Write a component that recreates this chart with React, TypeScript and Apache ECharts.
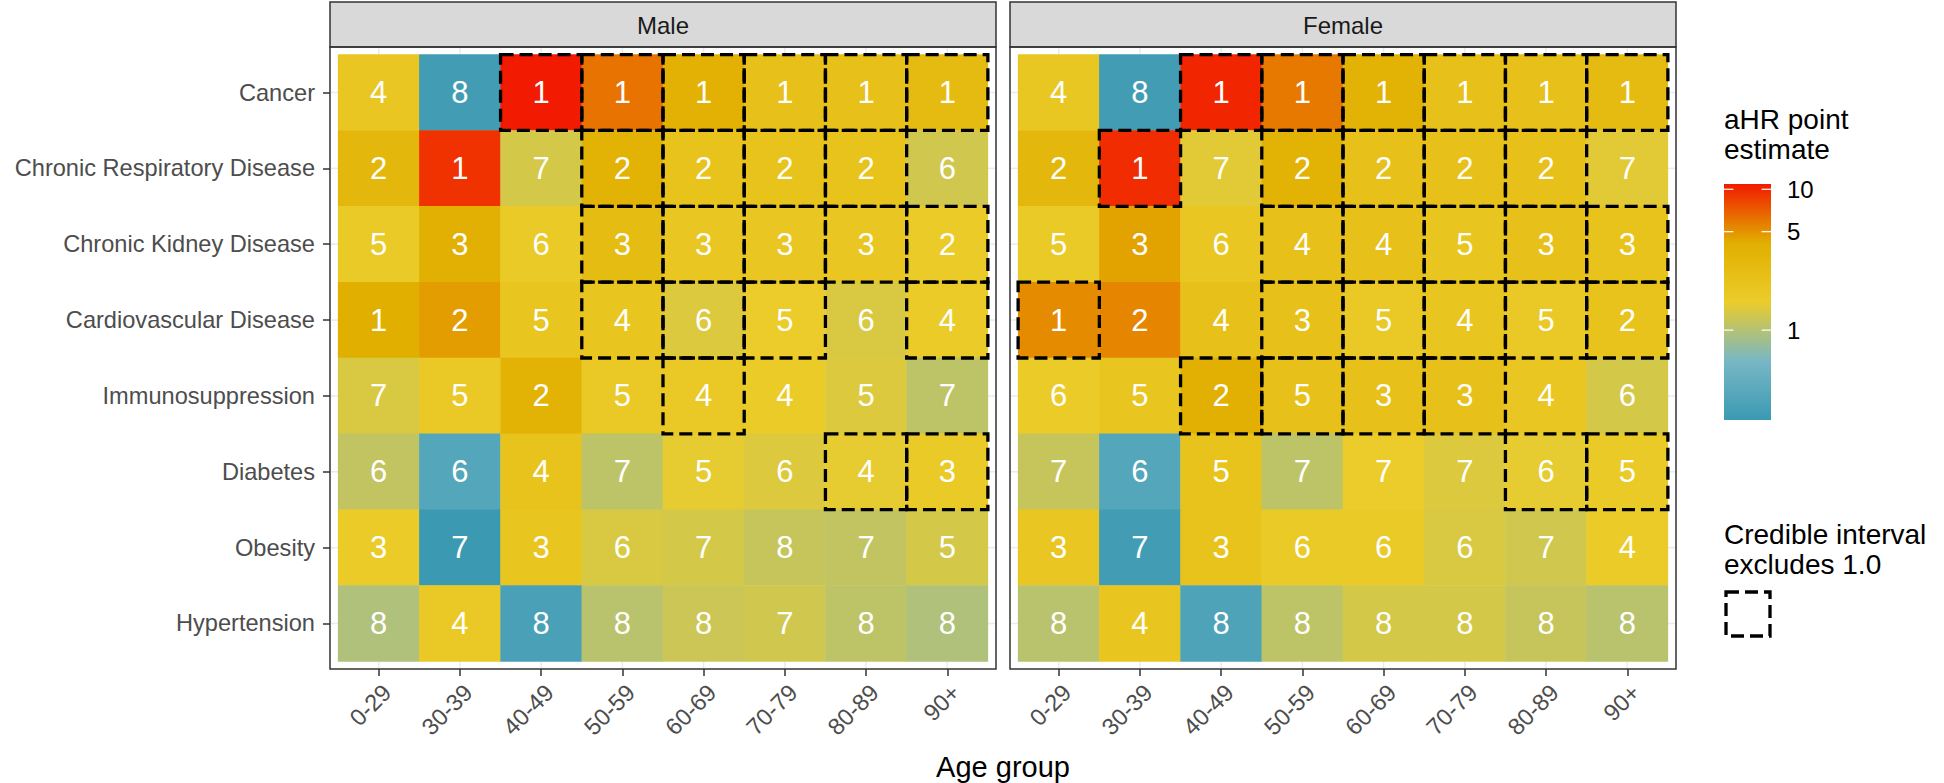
import React, { useEffect, useRef } from "react";
import * as echarts from "echarts";

// ---------------- data ----------------
const conditions = [
  "Cancer",
  "Chronic Respiratory Disease",
  "Chronic Kidney Disease",
  "Cardiovascular Disease",
  "Immunosuppression",
  "Diabetes",
  "Obesity",
  "Hypertension",
];
const ageGroups = ["0-29", "30-39", "40-49", "50-59", "60-69", "70-79", "80-89", "90+"];
const sexes = ["Male", "Female"];

// aHR point estimates (rows = conditions, cols = age groups), read from the colours
const maleAHR = [
  [1.92, 0.258, 10.9, 6.12, 3.85, 2.33, 2.33, 2.83],
  [3.18, 9.35, 1.31, 3.71, 2.16, 2.16, 2.16, 1.26],
  [1.71, 4.0, 1.71, 2.72, 1.92, 1.92, 1.92, 1.65],
  [4.16, 4.67, 2.0, 2.0, 1.41, 1.58, 1.36, 1.65],
  [1.36, 1.78, 3.71, 1.78, 1.78, 1.65, 1.41, 1.08],
  [1.12, 0.339, 2.16, 1.08, 1.52, 1.41, 1.52, 1.71],
  [1.65, 0.23, 2.0, 1.36, 1.31, 1.16, 1.12, 1.31],
  [0.96, 1.78, 0.29, 1.04, 1.21, 1.26, 1.08, 0.96],
];
const femaleAHR = [
  [1.85, 0.258, 10.1, 5.89, 3.71, 2.33, 2.33, 2.83],
  [3.18, 9.72, 1.47, 3.71, 2.33, 2.33, 2.33, 1.47],
  [1.71, 4.49, 1.92, 2.33, 2.33, 2.0, 2.33, 2.16],
  [5.24, 5.45, 2.33, 2.33, 1.78, 2.0, 1.78, 2.16],
  [1.65, 2.0, 4.0, 2.33, 2.33, 2.33, 1.92, 1.31],
  [1.16, 0.339, 2.16, 1.08, 1.58, 1.41, 1.52, 1.71],
  [1.92, 0.258, 2.16, 1.71, 1.71, 1.36, 1.26, 1.65],
  [1.04, 2.0, 0.313, 1.08, 1.31, 1.31, 1.16, 1.04],
];

// rank labels printed in each tile
const maleRank = [
  [4, 8, 1, 1, 1, 1, 1, 1],
  [2, 1, 7, 2, 2, 2, 2, 6],
  [5, 3, 6, 3, 3, 3, 3, 2],
  [1, 2, 5, 4, 6, 5, 6, 4],
  [7, 5, 2, 5, 4, 4, 5, 7],
  [6, 6, 4, 7, 5, 6, 4, 3],
  [3, 7, 3, 6, 7, 8, 7, 5],
  [8, 4, 8, 8, 8, 7, 8, 8],
];
const femaleRank = [
  [4, 8, 1, 1, 1, 1, 1, 1],
  [2, 1, 7, 2, 2, 2, 2, 7],
  [5, 3, 6, 4, 4, 5, 3, 3],
  [1, 2, 4, 3, 5, 4, 5, 2],
  [6, 5, 2, 5, 3, 3, 4, 6],
  [7, 6, 5, 7, 7, 7, 6, 5],
  [3, 7, 3, 6, 6, 6, 7, 4],
  [8, 4, 8, 8, 8, 8, 8, 8],
];

// 1 = credible interval excludes 1.0 (dashed outline)
const maleCrI = [
  [0, 0, 1, 1, 1, 1, 1, 1],
  [0, 0, 0, 1, 1, 1, 1, 0],
  [0, 0, 0, 1, 1, 1, 1, 1],
  [0, 0, 0, 1, 1, 1, 0, 1],
  [0, 0, 0, 0, 1, 0, 0, 0],
  [0, 0, 0, 0, 0, 0, 1, 1],
  [0, 0, 0, 0, 0, 0, 0, 0],
  [0, 0, 0, 0, 0, 0, 0, 0],
];
const femaleCrI = [
  [0, 0, 1, 1, 1, 1, 1, 1],
  [0, 1, 0, 1, 1, 1, 1, 0],
  [0, 0, 0, 1, 1, 1, 1, 1],
  [1, 0, 0, 1, 1, 1, 1, 1],
  [0, 0, 1, 1, 1, 1, 0, 0],
  [0, 0, 0, 0, 0, 0, 1, 1],
  [0, 0, 0, 0, 0, 0, 0, 0],
  [0, 0, 0, 0, 0, 0, 0, 0],
];

const legendBreaks = [1, 5, 10];
const zissou = ["#3B9AB2", "#78B7C5", "#EBCC2A", "#E1AF00", "#F21A00"];

// ---------------- layout / style ----------------
const FONT = "'Liberation Sans', Arial, Helvetica, sans-serif";
const PANEL_LEFTS = [330, 1010];
const PANEL_W = 666;
const PANEL_TOP = 47;
const PANEL_H = 622;
const STRIP_TOP = 2;
const STRIP_H = 45;
const PADX = (PANEL_W * 0.1) / 8.2;
const PADY = (PANEL_H * 0.1) / 8.2;
const AXIS_FS = 23.6;

const BAR_X = 1724;
const BAR_Y = 184;
const BAR_W = 47;
const BAR_H = 236;

const DASH = { lineWidth: 3.3, lineDash: [13, 6] };

function buildOption() {
  const ahr = [maleAHR, femaleAHR];
  const ranks = [maleRank, femaleRank];
  const cri = [maleCrI, femaleCrI];

  let lo = Infinity;
  let hi = -Infinity;
  ahr.forEach((m) => m.forEach((row) => row.forEach((v) => {
    lo = Math.min(lo, v);
    hi = Math.max(hi, v);
  })));
  const logMin = Math.log10(lo);
  const logMax = Math.log10(hi);

  const grids: any[] = [];
  const xAxes: any[] = [];
  const yAxes: any[] = [];
  const heatSeries: any[] = [];
  const stubSeries: any[] = [];
  const dashSeries: any[] = [];

  sexes.forEach((sex, g) => {
    const PL = PANEL_LEFTS[g];
    grids.push({
      left: PL + PADX,
      top: PANEL_TOP + PADY,
      width: PANEL_W - 2 * PADX,
      height: PANEL_H - 2 * PADY,
      outerBoundsMode: "none",
      containLabel: false,
    });
    xAxes.push({
      type: "category",
      gridIndex: g,
      data: ageGroups,
      position: "bottom",
      offset: PADY,
      axisLine: { show: false },
      axisTick: { show: true, alignWithLabel: true, length: 7, lineStyle: { color: "#333333", width: 1.5 } },
      axisLabel: {
        interval: 0,
        rotate: 45,
        fontSize: AXIS_FS,
        color: "#4D4D4D",
        fontFamily: FONT,
        margin: 11,
        align: "right",
        verticalAlign: "top",
      },
      splitLine: { show: false },
    });
    yAxes.push({
      type: "category",
      gridIndex: g,
      data: conditions,
      inverse: true,
      offset: PADX,
      axisLine: { show: false },
      axisTick: g === 0
        ? { show: true, alignWithLabel: true, length: 7, lineStyle: { color: "#333333", width: 1.5 } }
        : { show: false },
      axisLabel: g === 0
        ? { show: true, interval: 0, fontSize: AXIS_FS, color: "#4D4D4D", fontFamily: FONT, margin: 15 }
        : { show: false },
      splitLine: { show: false },
    });

    const data: any[] = [];
    const dashed: any[] = [];
    conditions.forEach((_, r) => {
      ageGroups.forEach((__, c) => {
        data.push([c, r, Math.log10(ahr[g][r][c]), ranks[g][r][c]]);
        if (cri[g][r][c]) dashed.push([c, r]);
      });
    });

    heatSeries.push({
      type: "heatmap",
      name: sex,
      xAxisIndex: g,
      yAxisIndex: g,
      data,
      z: 2,
      label: {
        show: true,
        formatter: (p: any) => String(p.data[3]),
        color: "#FFFFFF",
        fontSize: 31,
        fontFamily: FONT,
      },
      itemStyle: { borderWidth: 0 },
      emphasis: { disabled: true },
    });

    stubSeries.push({
      type: "custom",
      xAxisIndex: g,
      yAxisIndex: g,
      clip: false,
      z: 1,
      silent: true,
      data: ageGroups.map((_, i) => [i, i]),
      renderItem: (params: any, api: any) => {
        const cs = params.coordSys;
        const i = api.value(0);
        const c = api.coord([i, i]);
        const s = api.size([1, 1]);
        const px = 0.1 * s[0];
        const py = 0.1 * s[1];
        const st = { stroke: "#EBEBEB", lineWidth: 1.5 };
        return {
          type: "group",
          children: [
            { type: "line", shape: { x1: c[0], y1: cs.y - py, x2: c[0], y2: cs.y }, style: st },
            { type: "line", shape: { x1: c[0], y1: cs.y + cs.height, x2: c[0], y2: cs.y + cs.height + py }, style: st },
            { type: "line", shape: { x1: cs.x - px, y1: c[1], x2: cs.x, y2: c[1] }, style: st },
            { type: "line", shape: { x1: cs.x + cs.width, y1: c[1], x2: cs.x + cs.width + px, y2: c[1] }, style: st },
          ],
        };
      },
    });

    dashSeries.push({
      type: "custom",
      xAxisIndex: g,
      yAxisIndex: g,
      clip: false,
      z: 5,
      silent: true,
      data: dashed,
      renderItem: (params: any, api: any) => {
        const c = api.coord([api.value(0), api.value(1)]);
        const s = api.size([1, 1]);
        return {
          type: "rect",
          shape: { x: c[0] - s[0] / 2, y: c[1] - s[1] / 2, width: s[0], height: s[1] },
          style: { fill: "none", stroke: "#000000", ...DASH },
        };
      },
    });
  });

  // legend colour bar positions from the same log scale
  const barPos = (v: number) => BAR_Y + ((logMax - Math.log10(v)) / (logMax - logMin)) * BAR_H;
  const tickLen = BAR_W / 5;

  const txt = (text: string, x: number, y: number, size: number, color: string, align = "left", valign = "middle", z = 20) => ({
    type: "text",
    x,
    y,
    z,
    silent: true,
    style: {
      text,
      fill: color,
      font: `${size}px ${FONT}`,
      fontSize: size,
      fontFamily: FONT,
      textAlign: align,
      textVerticalAlign: valign,
      align,
      verticalAlign: valign,
    },
  });

  const graphics: any[] = [];
  sexes.forEach((sex, g) => {
    const PL = PANEL_LEFTS[g];
    graphics.push({
      type: "rect",
      z: 20,
      silent: true,
      shape: { x: PL, y: STRIP_TOP, width: PANEL_W, height: STRIP_H },
      style: { fill: "#D9D9D9", stroke: "#333333", lineWidth: 1.5 },
    });
    graphics.push(txt(sex, PL + PANEL_W / 2, STRIP_TOP + STRIP_H / 2 + 1, 24, "#1A1A1A", "center"));
    graphics.push({
      type: "rect",
      z: 20,
      silent: true,
      shape: { x: PL, y: PANEL_TOP, width: PANEL_W, height: PANEL_H },
      style: { fill: "none", stroke: "#333333", lineWidth: 1.5 },
    });
  });

  // axis title
  graphics.push(txt("Age group", PANEL_LEFTS[0] + (PANEL_LEFTS[1] + PANEL_W - PANEL_LEFTS[0]) / 2, 767, 29, "#000000", "center"));

  // legend: colour bar
  graphics.push(txt("aHR point", BAR_X, 119, 28, "#000000"));
  graphics.push(txt("estimate", BAR_X, 149, 28, "#000000"));
  graphics.push({
    type: "rect",
    z: 20,
    silent: true,
    shape: { x: BAR_X, y: BAR_Y, width: BAR_W, height: BAR_H },
    style: {
      fill: {
        type: "linear",
        x: 0,
        y: 0,
        x2: 0,
        y2: 1,
        colorStops: zissou
          .slice()
          .reverse()
          .map((color, i) => ({ offset: i / (zissou.length - 1), color })),
      },
    },
  });
  legendBreaks.forEach((b) => {
    const y = barPos(b);
    graphics.push({
      type: "line",
      z: 21,
      silent: true,
      shape: { x1: BAR_X, y1: y, x2: BAR_X + tickLen, y2: y },
      style: { stroke: "#FFFFFF", lineWidth: 1.2 },
    });
    graphics.push({
      type: "line",
      z: 21,
      silent: true,
      shape: { x1: BAR_X + BAR_W - tickLen, y1: y, x2: BAR_X + BAR_W, y2: y },
      style: { stroke: "#FFFFFF", lineWidth: 1.2 },
    });
    graphics.push(txt(String(b), BAR_X + BAR_W + 16, y, 24, "#000000"));
  });

  // legend: dashed key
  graphics.push(txt("Credible interval", BAR_X, 534, 28, "#000000"));
  graphics.push(txt("excludes 1.0", BAR_X, 564, 28, "#000000"));
  graphics.push({
    type: "rect",
    z: 20,
    silent: true,
    shape: { x: BAR_X + 2, y: 592, width: 44, height: 44 },
    style: { fill: "none", stroke: "#000000", ...DASH },
  });

  return {
    animation: false,
    backgroundColor: "#FFFFFF",
    textStyle: { fontFamily: FONT },
    grid: grids,
    xAxis: xAxes,
    yAxis: yAxes,
    visualMap: [
      {
        type: "continuous",
        show: false,
        dimension: 2,
        min: logMin,
        max: logMax,
        seriesIndex: [0, 1],
        inRange: { color: zissou },
      },
    ],
    series: [...heatSeries, ...stubSeries, ...dashSeries],
    graphic: { elements: graphics },
  };
}

export default function App() {
  const ref = useRef<HTMLDivElement>(null);
  useEffect(() => {
    if (!ref.current) return;
    const chart = echarts.init(ref.current, undefined, { renderer: "svg" });
    chart.setOption(buildOption() as any);
    return () => chart.dispose();
  }, []);
  return (
    <div
      ref={ref}
      style={{ position: "absolute", left: 0, top: 0, width: 1944, height: 783, background: "#FFFFFF" }}
    />
  );
}
